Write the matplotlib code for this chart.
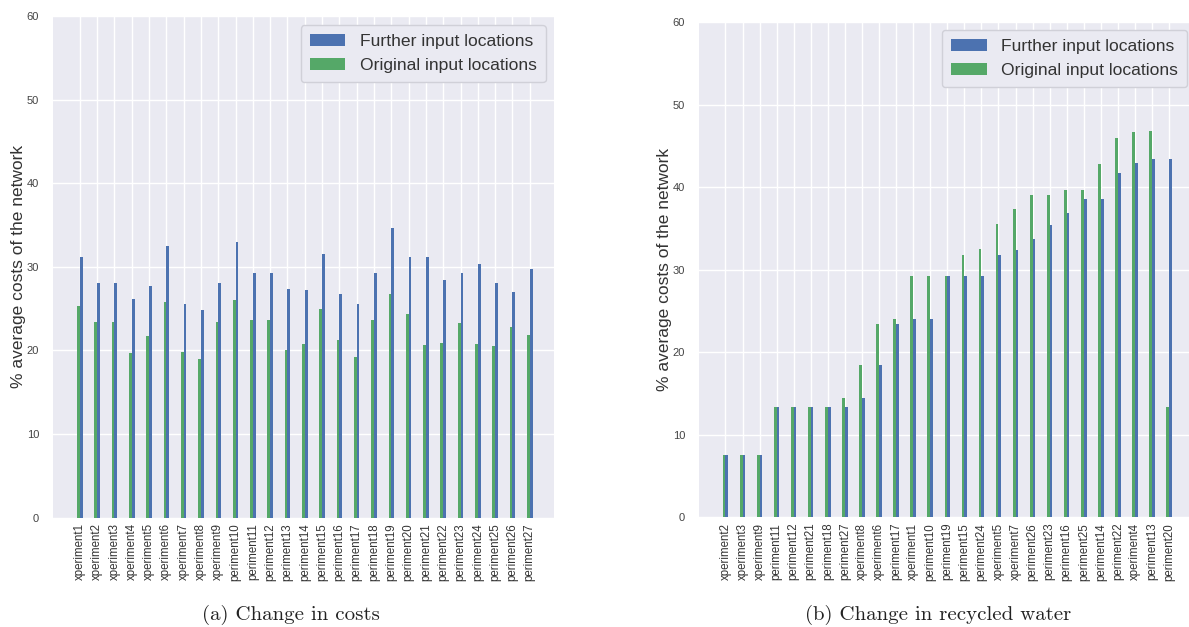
import matplotlib
matplotlib.use("Agg")
import matplotlib.pyplot as plt
import numpy as np

# --- data -------------------------------------------------------------
cost_labels = ["xperiment1", "xperiment2", "xperiment3", "xperiment4", "xperiment5",
               "xperiment6", "xperiment7", "xperiment8", "xperiment9", "periment10",
               "periment11", "periment12", "periment13", "periment14", "periment15",
               "periment16", "periment17", "periment18", "periment19", "periment20",
               "periment21", "periment22", "periment23", "periment24", "periment25",
               "periment26", "periment27"]
cost_further = [31.2, 28.1, 28.1, 26.1, 27.7, 32.5, 25.5, 24.8, 28.1, 33.0,
                29.3, 29.3, 27.4, 27.2, 31.5, 26.8, 25.5, 29.3, 34.6, 31.2,
                31.2, 28.4, 29.3, 30.3, 28.1, 27.0, 29.7]
cost_original = [25.3, 23.4, 23.4, 19.7, 21.7, 25.8, 19.8, 19.0, 23.4, 26.0,
                 23.6, 23.6, 20.1, 20.8, 24.9, 21.3, 19.2, 23.6, 26.8, 24.4,
                 20.6, 20.9, 23.3, 20.8, 20.5, 22.8, 21.9]

water_labels = ["xperiment2", "xperiment3", "xperiment9", "periment11", "periment12",
                "periment21", "periment18", "periment27", "xperiment8", "xperiment6",
                "periment17", "xperiment1", "periment10", "periment19", "periment15",
                "periment24", "xperiment5", "xperiment7", "periment26", "periment23",
                "periment16", "periment25", "periment14", "periment22", "xperiment4",
                "periment13", "periment20"]
water_further = [7.5, 7.5, 7.5, 13.4, 13.4, 13.4, 13.4, 13.4, 14.5, 18.5,
                 23.4, 24.0, 24.0, 29.2, 29.2, 29.2, 31.8, 32.4, 33.7, 35.4,
                 36.9, 38.5, 38.5, 41.7, 42.9, 43.4, 43.4]
water_original = [7.5, 7.5, 7.5, 13.4, 13.4, 13.4, 13.4, 14.5, 18.5, 23.4,
                  24.0, 29.2, 29.2, 29.2, 31.8, 32.5, 35.5, 37.3, 39.0, 39.0,
                  39.6, 39.6, 42.8, 46.0, 46.7, 46.8, 13.4]

series_names = ["Further input locations", "Original input locations"]
y_ticks = [0, 10, 20, 30, 40, 50, 60]

# --- style ------------------------------------------------------------
BLUE = "#4C72B0"
GREEN = "#55A868"
SANS = ["Liberation Sans", "DejaVu Sans"]
plt.rcParams["font.family"] = SANS

W, H = 1189, 627
fig = plt.figure(figsize=(W / 100, H / 100), dpi=100)


def px_axes(left, top, right, bottom):
    return fig.add_axes([left / W, 1 - bottom / H, (right - left) / W, (bottom - top) / H])


def draw_panel(ax, labels, further, original, caption, cap_x, anchor):
    x = np.arange(len(labels))
    bw = 0.16
    ax.set_facecolor("#EAEAF2")
    for s in ax.spines.values():
        s.set_visible(False)
    ax.set_axisbelow(True)
    ax.grid(True, color="white", linewidth=1.0)
    ax.bar(x, original, width=-bw, align="edge", color=GREEN, label=series_names[1])
    ax.bar(x, further, width=bw, align="edge", color=BLUE, label=series_names[0])
    ax.set_xlim(-1.55, 27.4)
    ax.set_ylim(0, 60)
    ax.set_yticks(y_ticks)
    ax.set_xticks(x)
    ax.set_xticklabels(labels, rotation=90, fontsize=8.3, color="#333333")
    ax.tick_params(axis="y", labelsize=8, colors="#444444", length=0, pad=10)
    ax.tick_params(axis="x", length=0, pad=4)
    ax.set_ylabel("% average costs of the network", fontsize=12.5, color="#333333",
                  labelpad=0.5)
    handles, lbls = ax.get_legend_handles_labels()
    leg = ax.legend(handles[::-1], lbls[::-1], loc="upper right", fontsize=12.6,
                    frameon=True, facecolor="#EAEAF2", edgecolor="#D0D0D8",
                    framealpha=1.0, handlelength=2.05, handleheight=0.7,
                    borderpad=0.5, labelspacing=0.52, handletextpad=0.85,
                    borderaxespad=0.0, bbox_to_anchor=anchor)
    for t in leg.get_texts():
        t.set_color("#333333")
    fig.text(cap_x / W, 1 - 615 / H, caption, family="cmr10", fontsize=15,
             ha="center", va="center", color="#222222")


ax_a = px_axes(53, 16, 554, 517.6)
draw_panel(ax_a, cost_labels, cost_further, cost_original,
           "(a) Change in costs", 291, (0.984, 0.982))

ax_b = px_axes(699, 22, 1193, 517.3)
draw_panel(ax_b, water_labels, water_further, water_original,
           "(b) Change in recycled water", 938, (0.988, 0.984))

fig.savefig("out.png", dpi=100)
